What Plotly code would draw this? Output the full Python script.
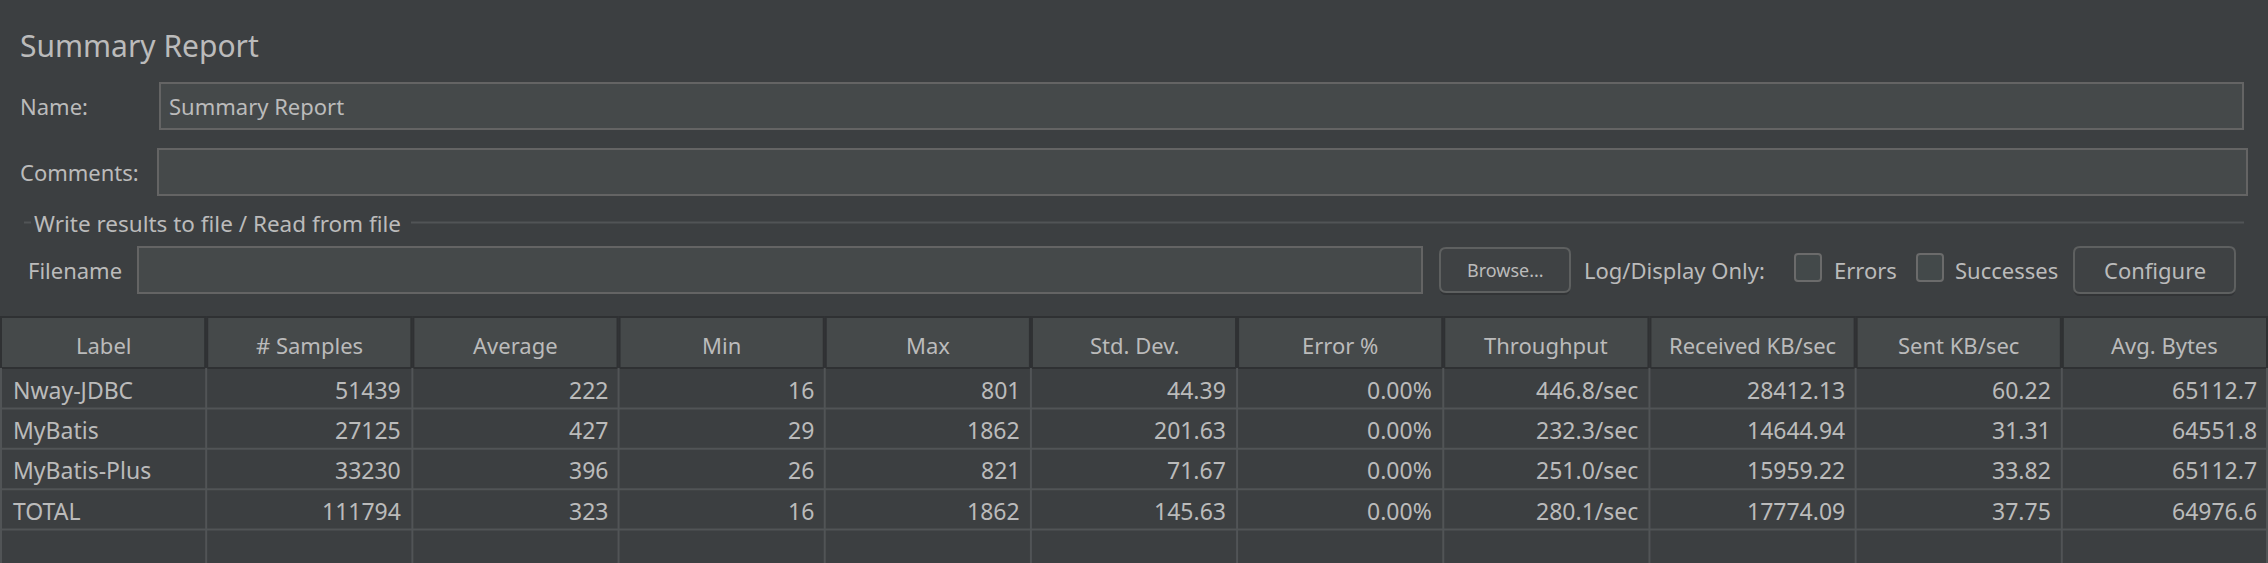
import plotly.graph_objects as go

W, H = 2268, 563

# table data
columns = ["Label", "# Samples", "Average", "Min", "Max", "Std. Dev.", "Error %",
           "Throughput", "Received KB/sec", "Sent KB/sec", "Avg. Bytes"]
labels = ["Nway-JDBC", "MyBatis", "MyBatis-Plus", "TOTAL"]
samples = [51439, 27125, 33230, 111794]
average = [222, 427, 396, 323]
minimum = [16, 29, 26, 16]
maximum = [801, 1862, 821, 1862]
std_dev = [44.39, 201.63, 71.67, 145.63]
error_pct = [0.00, 0.00, 0.00, 0.00]
throughput = [446.8, 232.3, 251.0, 280.1]
received_kb = [28412.13, 14644.94, 15959.22, 17774.09]
sent_kb = [60.22, 31.31, 33.82, 37.75]
avg_bytes = [65112.7, 64551.8, 65112.7, 64976.6]

BG = "#3c3f41"
FIELD = "#45494a"
FIELD_BORDER = "#646464"
TEXT = "#bbbbbb"
HEADER = "#45494a"
HEADER_LINE = "#2f3133"
GRID = "#515456"
FONT = "Noto Sans"

fig = go.Figure()
shapes = []
annotations = []


def label(x, y, text, size=22, anchor="left"):
    annotations.append(dict(x=x, y=y, text=text, showarrow=False, xanchor=anchor,
                            yanchor="middle", font=dict(family=FONT, size=size, color=TEXT)))


def box(x0, y0, x1, y1, fill=FIELD, line=FIELD_BORDER):
    shapes.append(dict(type="rect", x0=x0, y0=y0, x1=x1, y1=y1, fillcolor=fill,
                       line=dict(color=line, width=2), layer="below"))


def rrect(x0, y0, x1, y1, r):
    return (f"M{x0 + r},{y0} L{x1 - r},{y0} Q{x1},{y0} {x1},{y0 + r} "
            f"L{x1},{y1 - r} Q{x1},{y1} {x1 - r},{y1} L{x0 + r},{y1} "
            f"Q{x0},{y1} {x0},{y1 - r} L{x0},{y0 + r} Q{x0},{y0} {x0 + r},{y0} Z")


def button(x0, y0, x1, y1, text, size):
    shapes.append(dict(type="path", path=rrect(x0, y0 + 3, x1, y1 + 3, 6),
                       fillcolor="#323436", line=dict(width=0), layer="below"))
    shapes.append(dict(type="path", path=rrect(x0, y0, x1, y1, 6),
                       fillcolor="#3f4244", line=dict(color="#5e6060", width=2), layer="below"))
    label((x0 + x1) / 2, (y0 + y1) / 2, text, size, "center")


def checkbox(x0, y0, x1, y1):
    shapes.append(dict(type="path", path=rrect(x0, y0, x1, y1, 3),
                       fillcolor="#43494a", line=dict(color="#6b6b6b", width=2), layer="below"))


# top form
label(18, 45, "Summary Report", 30)
label(18, 106, "Name:")
box(160, 83, 2243, 129)
label(167, 106, "Summary Report")
label(18, 172, "Comments:")
box(158, 149, 2247, 195)

label(32, 223, "Write results to file / Read from file", 22.5)
for x0, x1 in [(24, 31), (411, 2244)]:
    shapes.append(dict(type="line", x0=x0, x1=x1, y0=222.5, y1=222.5,
                       line=dict(color=GRID, width=2), layer="below"))

label(26, 270, "Filename")
box(138, 247, 1422, 293)
button(1440, 248, 1570, 292, "Browse...", 18)
label(1582, 270, "Log/Display Only:")
checkbox(1795, 254, 1821, 281)
label(1832, 270, "Errors")
checkbox(1917, 254, 1943, 281)
label(1953, 270, "Successes")
button(2074, 247, 2235, 293, "Configure", 22)

# summary table
rows = [labels,
        [str(v) for v in samples],
        [str(v) for v in average],
        [str(v) for v in minimum],
        [str(v) for v in maximum],
        [f"{v:.2f}" for v in std_dev],
        [f"{v:.2f}%" for v in error_pct],
        [f"{v:.1f}/sec" for v in throughput],
        [f"{v:.2f}" for v in received_kb],
        [f"{v:.2f}" for v in sent_kb],
        [f"{v:.1f}" for v in avg_bytes]]

n_cols = len(columns)
col_w = W / n_cols
head_top, head_bot = 317, 368
row_h = 40.4
row_edges = [head_bot + i * row_h for i in range(len(labels) + 1)]

for i, name in enumerate(columns):
    x0 = i * col_w
    box(x0 + 1, head_top, x0 + col_w - 1, head_bot, fill=HEADER, line=HEADER_LINE)
    label(x0 + col_w / 2, 345, name, 22, "center")
    if i > 0:
        shapes.append(dict(type="line", x0=x0, x1=x0, y0=head_bot, y1=H,
                           line=dict(color=GRID, width=2), layer="below"))
    for r, text in enumerate(rows[i]):
        yc = row_edges[r] + 21.5
        if i == 0:
            label(x0 + 11, yc, text, 23)
        else:
            label(x0 + col_w - 9, yc, text, 23, "right")

for y in row_edges[1:]:
    shapes.append(dict(type="line", x0=0, x1=W, y0=y, y1=y,
                       line=dict(color=GRID, width=2), layer="below"))
shapes.append(dict(type="line", x0=1, x1=1, y0=head_bot, y1=H,
                   line=dict(color=GRID, width=2), layer="below"))
shapes.append(dict(type="line", x0=W - 1, x1=W - 1, y0=head_bot, y1=H,
                   line=dict(color=GRID, width=2), layer="below"))

fig.update_layout(
    width=W, height=H,
    margin=dict(l=0, r=0, t=0, b=0),
    paper_bgcolor=BG, plot_bgcolor=BG,
    showlegend=False,
    shapes=shapes, annotations=annotations,
    xaxis=dict(range=[0, W], visible=False, fixedrange=True),
    yaxis=dict(range=[H, 0], visible=False, fixedrange=True),
)

# page body has a default 8px margin, drop it so the figure fills the window
fig.write_html("out.html", config={"displayModeBar": False},
               post_script="document.body.style.margin='0';")
